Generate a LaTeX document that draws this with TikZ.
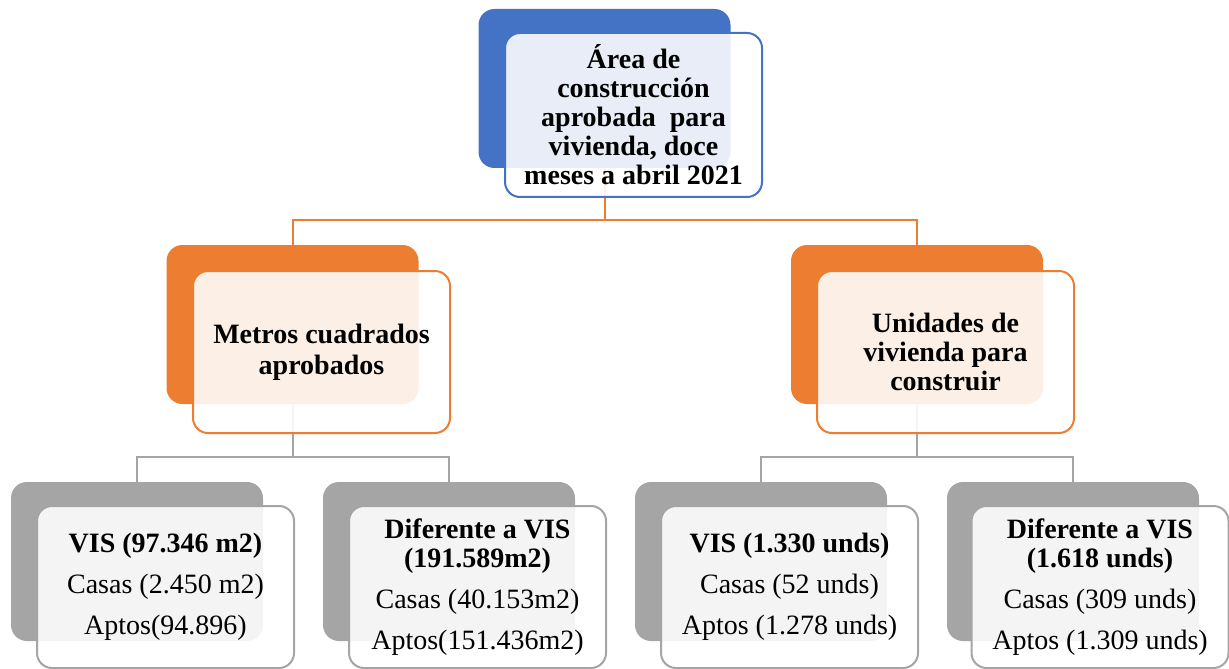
\documentclass[tikz,border=0pt]{standalone}
\usepackage{fontspec}
\setmainfont{Liberation Serif}
\definecolor{azul}{HTML}{4472C4}
\definecolor{naranja}{HTML}{ED7D31}
\definecolor{gris}{HTML}{A5A5A5}
\begin{document}
\begin{tikzpicture}[x=0.5pt,y=-0.5pt,
  fondo/.style={rounded corners=8pt,inner sep=0pt,minimum width=126pt,minimum height=79.5pt,fill=#1},
  frente/.style={rounded corners=7.5pt,inner sep=0pt,minimum width=128.5pt,minimum height=81pt,draw=#1,line width=1pt,
    fill=white,fill opacity=.88,text opacity=1,align=center,font=\fontsize{14}{14.5}\selectfont},
  enlace/.style={line width=1pt,draw=#1}]
\useasboundingbox (0,0) rectangle (1229,668);
\foreach \n/\x/\y/\c in {a/604.5/88.5/azul,b/292.5/324.5/naranja,c/917/324.5/naranja,d/137/561.5/gris,e/449/561.5/gris,f/761/561.5/gris,g/1073/561.5/gris}
  \node[fondo=\c](f\n) at (\x,\y){};
\coordinate (j0) at (604.5,220);
\coordinate (j1) at (292.5,457);
\coordinate (j2) at (917,457);
\draw[enlace=naranja](fa.south)--(j0)-|(fb.north);
\draw[enlace=naranja](j0)-|(fc.north);
\draw[enlace=gris](fb.south)--(j1)-|(fd.north);
\draw[enlace=gris](j1)-|(fe.north);
\draw[enlace=gris](fc.south)--(j2)-|(ff.north);
\draw[enlace=gris](j2)-|(fg.north);
\node[frente=azul,minimum height=82pt,font=\fontsize{14}{14.5}\selectfont\bfseries](ta) at (633.5,115){Área de\\construcción\\aprobada\ \ para\\vivienda, doce\\meses a abril 2021};
\node[frente=naranja,font=\fontsize{14}{15.5}\selectfont\bfseries](tb) at (321.5,352){Metros cuadrados\\aprobados};
\node[frente=naranja,font=\fontsize{14}{14.5}\selectfont\bfseries](tc) at (945.5,352){Unidades de\\vivienda para\\construir};
\node[frente=gris](td) at (165.5,587){\textbf{VIS (97.346 m2)}\\[6pt]Casas (2.450 m2)\\[6pt]Aptos(94.896)};
\node[frente=gris](te) at (477.5,587){\textbf{Diferente a VIS}\\\textbf{(191.589m2)}\\[6pt]Casas (40.153m2)\\[6pt]Aptos(151.436m2)};
\node[frente=gris](tf) at (789.5,587){\textbf{VIS (1.330 unds)}\\[6pt]Casas (52 unds)\\[6pt]Aptos (1.278 unds)};
\node[frente=gris](tg) at (1100,587){\textbf{Diferente a VIS}\\\textbf{(1.618 unds)}\\[6pt]Casas (309 unds)\\[6pt]Aptos (1.309 unds)};
\end{tikzpicture}
\end{document}
